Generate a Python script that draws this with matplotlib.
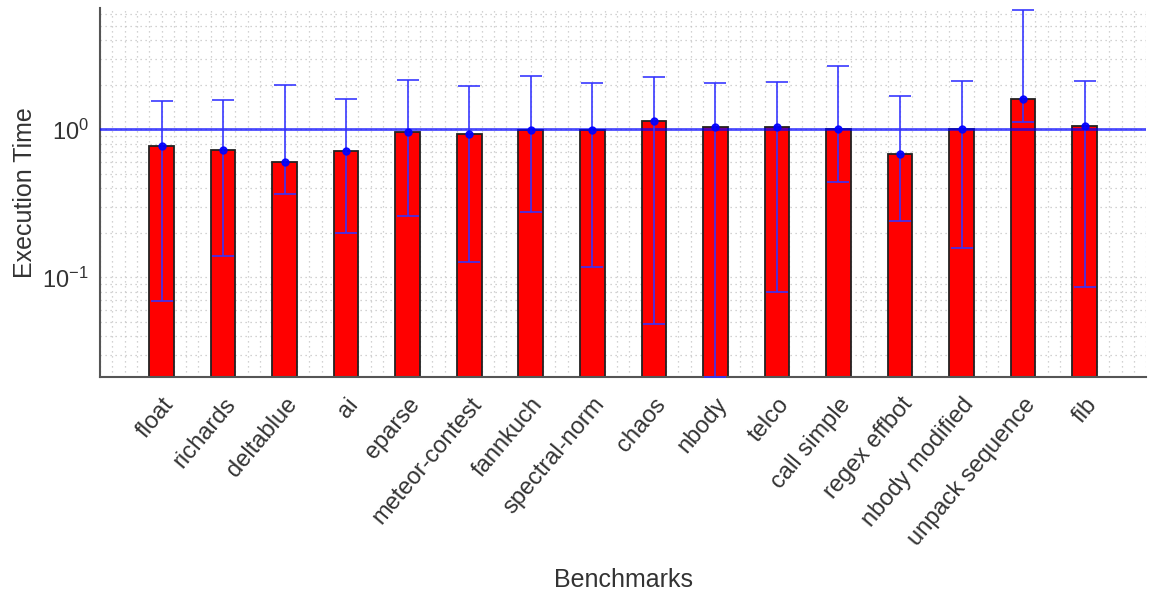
import numpy as np
import matplotlib.pyplot as plt
from matplotlib.ticker import MultipleLocator, LogLocator, NullFormatter

plt.rcParams['font.family'] = ['Liberation Sans', 'DejaVu Sans']

# Mean execution time relative to the baseline, with min / max range
benchmarks = ["float", "richards", "deltablue", "ai", "eparse", "meteor-contest",
              "fannkuch", "spectral-norm", "chaos", "nbody", "telco", "call simple",
              "regex effbot", "nbody modified", "unpack sequence", "fib"]
mean_time = [0.768, 0.725, 0.598, 0.710, 0.954, 0.934, 0.994, 0.994,
             1.138, 1.036, 1.036, 1.009, 0.684, 1.005, 1.61, 1.048]
max_time = [1.55, 1.585, 2.0, 1.61, 2.16, 1.97, 2.30, 2.05,
            2.27, 2.05, 2.09, 2.69, 1.69, 2.13, 6.37, 2.13]
min_time = [0.0692, 0.139, 0.364, 0.199, 0.261, 0.127, 0.276, 0.117,
            0.0483, 0.0213, 0.0796, 0.443, 0.241, 0.157, 1.115, 0.0856]

mean_time = np.array(mean_time)
yerr = [mean_time - np.array(min_time), np.array(max_time) - mean_time]
x = np.arange(len(benchmarks))

fig = plt.figure(figsize=(11.49, 5.93), dpi=100)
ax = fig.add_axes([0.087, 0.3643, 0.9105, 0.6222])

ax.bar(x, mean_time, width=0.4, color='#ff0000', edgecolor='#222222', linewidth=1.3, zorder=2)
ax.axhline(1.0, color='#0000ff', alpha=0.7, linewidth=2, zorder=3)
ax.errorbar(x, mean_time, yerr=yerr, fmt='o', color='#0000ff', markersize=5,
            ecolor='#3333ff', elinewidth=1.3, capsize=8, capthick=1.3, alpha=0.9, zorder=4)

ax.set_yscale('log')
ax.set_ylim(0.0213, 6.6)
ax.set_xlim(-1, 16)
ax.yaxis.set_major_locator(LogLocator(base=10))
ax.yaxis.set_minor_locator(LogLocator(base=10, subs=np.arange(2, 10)))
ax.yaxis.set_minor_formatter(NullFormatter())
ax.set_xticks(x)
ax.xaxis.set_minor_locator(MultipleLocator(0.2))

ax.set_xticklabels(benchmarks, rotation=50, ha='right', va='top',
                   rotation_mode='anchor')
ax.tick_params(axis='both', which='both', length=0, labelsize=17, colors='#333333')
ax.tick_params(axis='x', pad=12)
ax.tick_params(axis='y', pad=8)

ax.set_axisbelow(True)
ax.grid(True, which='both', color='#c4c4c4', linestyle=(0, (1, 3)), linewidth=0.9)

for side in ['top', 'right']:
    ax.spines[side].set_visible(False)
for side in ['left', 'bottom']:
    ax.spines[side].set_color('#555555')
    ax.spines[side].set_linewidth(1.5)

ax.set_xlabel("Benchmarks", fontsize=18, color='#333333', labelpad=13)
ax.set_ylabel("Execution Time", fontsize=18, color='#333333', labelpad=4)

fig.savefig("out.png", dpi=100)
